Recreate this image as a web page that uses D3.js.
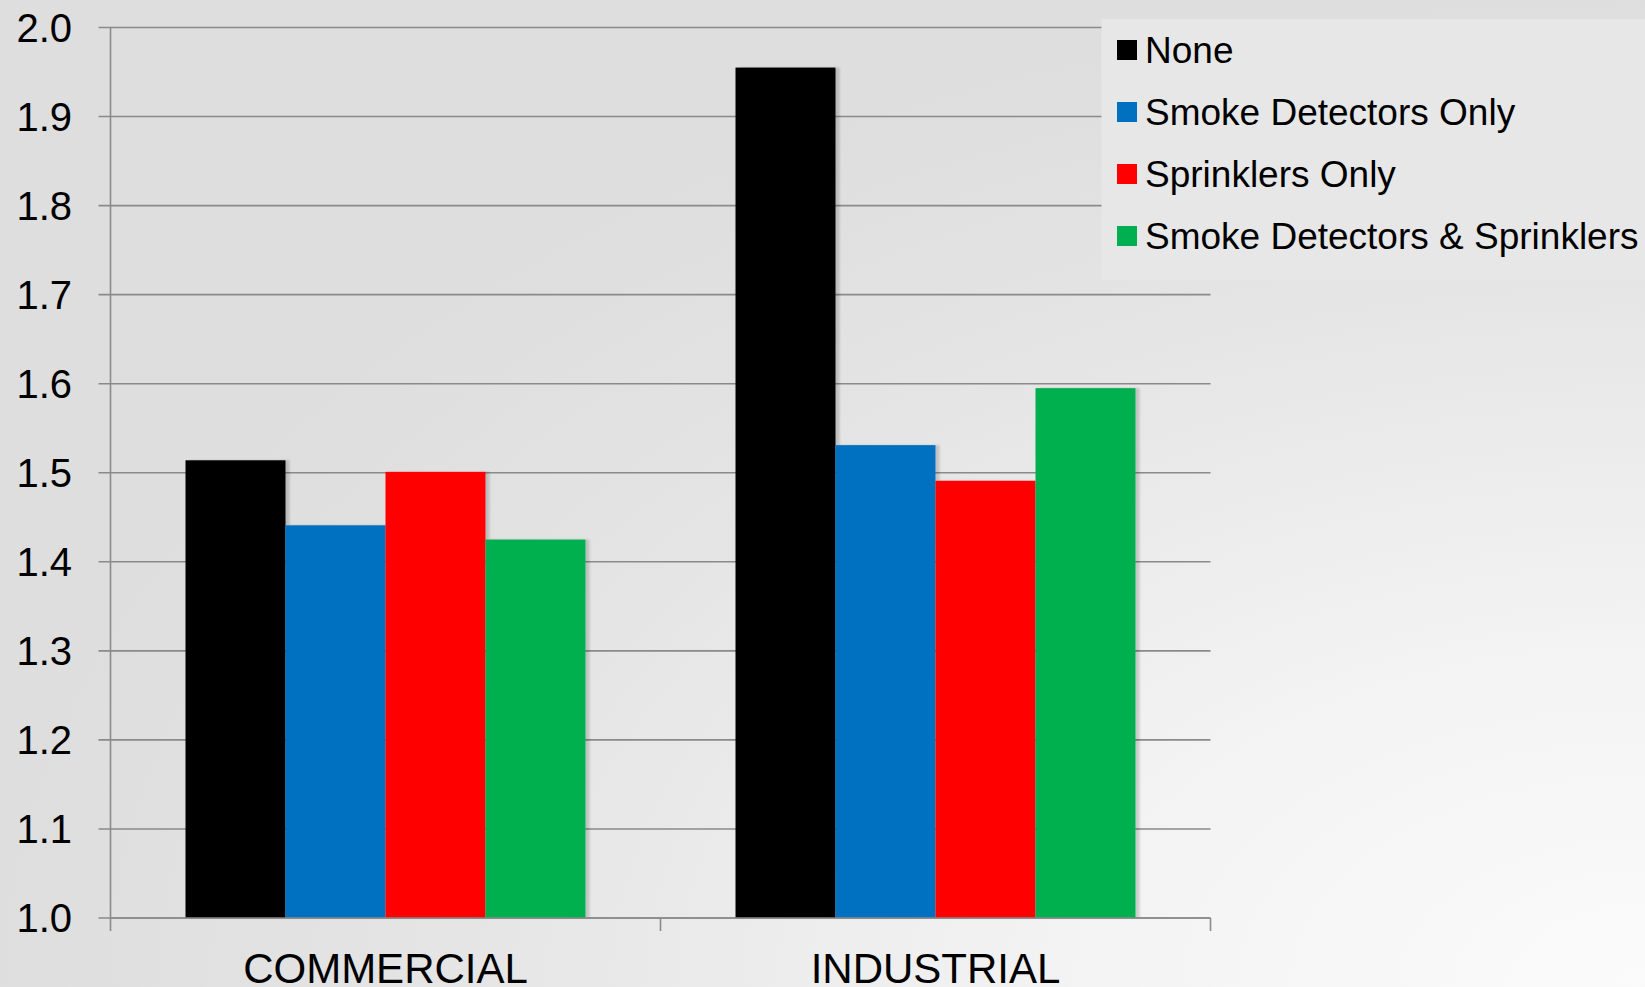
<!DOCTYPE html>
<html>
<head>
  <meta charset="utf-8">
  <script src="https://d3js.org/d3.v7.min.js"></script>
  <style>
    body { margin: 0; overflow: hidden; }
    text { font-family: "Liberation Sans", Arial, sans-serif; fill: #000; }
  </style>
</head>
<body>
  <script type="text/javascript">
    "use strict";

    // data
    var categories = ["COMMERCIAL", "INDUSTRIAL"];
    var series = ["None", "Smoke Detectors Only", "Sprinklers Only", "Smoke Detectors & Sprinklers"];
    var colors = ["#000000", "#0070C0", "#FF0000", "#00B050"];
    var commercial = [1.514, 1.441, 1.501, 1.425];
    var industrial = [1.955, 1.531, 1.491, 1.595];
    var yTicks = [1.0, 1.1, 1.2, 1.3, 1.4, 1.5, 1.6, 1.7, 1.8, 1.9, 2.0];

    var values = [commercial, industrial];

    var width = 1645,
        height = 987,
        plotLeft = 110.5,
        plotRight = 1210.5,
        plotTop = 27.5,
        plotBottom = 918;

    var svg = d3.select("body")
      .append("svg")
        .attr("width", width)
        .attr("height", height);

    var defs = svg.append("defs");

    // background: light corner at bottom right, grey elsewhere
    var bg = defs.append("radialGradient")
        .attr("id", "bg")
        .attr("cx", 1).attr("cy", 1).attr("r", 1)
        .attr("fx", 1).attr("fy", 1);
    bg.append("stop").attr("offset", 0).attr("stop-color", "#fbfbfb");
    bg.append("stop").attr("offset", 0.35).attr("stop-color", "#f3f3f3");
    bg.append("stop").attr("offset", 0.75).attr("stop-color", "#e4e4e4");
    bg.append("stop").attr("offset", 1).attr("stop-color", "#dedede");

    var shadow = defs.append("filter")
        .attr("id", "shadow")
        .attr("x", "-10%").attr("y", "-10%")
        .attr("width", "130%").attr("height", "120%");
    shadow.append("feDropShadow")
        .attr("dx", 4).attr("dy", 0)
        .attr("stdDeviation", 0.8)
        .attr("flood-color", "#000")
        .attr("flood-opacity", 0.16);

    svg.append("rect")
        .attr("width", width)
        .attr("height", height)
        .attr("fill", "url(#bg)");

    // scales
    var x0 = d3.scaleBand()
        .domain(categories)
        .range([plotLeft, plotRight])
        .padding(0);

    var x1 = d3.scaleBand()
        .domain(series)
        .range([0, x0.bandwidth()])
        .paddingOuter(0.75)
        .paddingInner(0);

    var y = d3.scaleLinear()
        .domain([1, 2])
        .range([plotBottom, plotTop]);

    // gridlines
    svg.append("g")
      .selectAll("line")
      .data(yTicks)
      .enter()
      .append("line")
        .attr("x1", plotLeft - 12)
        .attr("x2", plotRight)
        .attr("y1", function (d) { return y(d); })
        .attr("y2", function (d) { return y(d); })
        .attr("stroke", "#8a8a8a")
        .attr("stroke-width", 1.6);

    // y axis line
    svg.append("line")
        .attr("x1", plotLeft).attr("x2", plotLeft)
        .attr("y1", y(2)).attr("y2", plotBottom)
        .attr("stroke", "#8a8a8a")
        .attr("stroke-width", 1.6);

    // y tick labels
    svg.append("g")
      .selectAll("text")
      .data(yTicks)
      .enter()
      .append("text")
        .attr("x", 72)
        .attr("y", function (d) { return y(d) + 14.3; })
        .attr("text-anchor", "end")
        .style("font-size", "40px")
        .text(function (d) { return d3.format(".1f")(d); });

    // bars
    var groups = svg.append("g")
      .selectAll("g")
      .data(categories)
      .enter()
      .append("g")
        .attr("transform", function (d) { return "translate(" + x0(d) + ",0)"; });

    groups.selectAll("rect")
      .data(function (d, i) {
        return series.map(function (s, j) { return { s: s, v: values[i][j], c: colors[j] }; });
      })
      .enter()
      .append("rect")
        .attr("x", function (d) { return x1(d.s); })
        .attr("width", x1.bandwidth())
        .attr("y", function (d) { return y(d.v); })
        .attr("height", function (d) { return plotBottom - y(d.v); })
        .attr("fill", function (d) { return d.c; })
        .attr("filter", "url(#shadow)");

    // x axis
    var xAxis = svg.append("g");
    xAxis.append("line")
        .attr("x1", plotLeft).attr("x2", plotRight)
        .attr("y1", plotBottom).attr("y2", plotBottom)
        .attr("stroke", "#8a8a8a")
        .attr("stroke-width", 1.6);

    var edges = categories.map(function (c) { return x0(c); }).concat([plotRight]);
    xAxis.selectAll(".tick")
      .data(edges)
      .enter()
      .append("line")
        .attr("class", "tick")
        .attr("x1", function (d) { return d; })
        .attr("x2", function (d) { return d; })
        .attr("y1", plotBottom)
        .attr("y2", plotBottom + 13)
        .attr("stroke", "#8a8a8a")
        .attr("stroke-width", 1.6);

    xAxis.selectAll(".label")
      .data(categories)
      .enter()
      .append("text")
        .attr("class", "label")
        .attr("x", function (d) { return x0(d) + x0.bandwidth() / 2; })
        .attr("y", 983)
        .attr("text-anchor", "middle")
        .style("font-size", "42px")
        .text(function (d) { return d; });

    // legend
    var legend = svg.append("g");
    legend.append("rect")
        .attr("x", 1101.5)
        .attr("y", 19)
        .attr("width", width - 1101.5)
        .attr("height", 261)
        .attr("fill", "#e7e7e7");

    var items = legend.selectAll(".item")
      .data(series)
      .enter()
      .append("g")
        .attr("class", "item")
        .attr("transform", function (d, i) { return "translate(1117," + (50 + i * 62) + ")"; });

    items.append("rect")
        .attr("x", 0)
        .attr("y", -10)
        .attr("width", 20)
        .attr("height", 20)
        .attr("fill", function (d, i) { return colors[i]; });

    items.append("text")
        .attr("x", 28)
        .attr("y", 13)
        .style("font-size", "37px")
        .text(function (d) { return d; });
  </script>
</body>
</html>
